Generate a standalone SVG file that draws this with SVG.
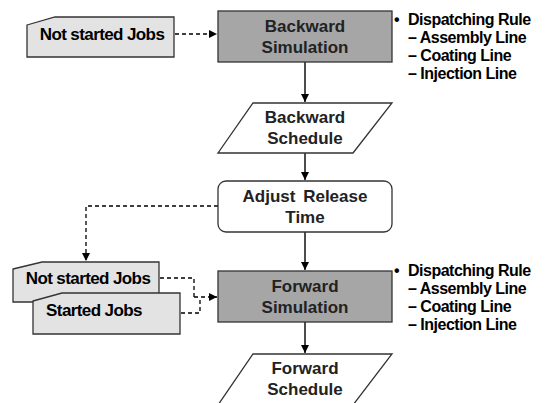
<svg xmlns="http://www.w3.org/2000/svg" width="545" height="403" viewBox="0 0 545 403">
<defs>
<marker id="ah" markerWidth="10" markerHeight="10" refX="9" refY="5" orient="auto" markerUnits="userSpaceOnUse">
<path d="M1,1 L9,5 L1,9 Z" fill="#000"/>
</marker>
<style>
.proc{fill:#a6a6a6;stroke:#333;stroke-width:1.3}
.plain{fill:#fff;stroke:#333;stroke-width:1.3}
.doc{fill:#e3e3e3;stroke:#333;stroke-width:1.3}
.t{font-family:"Liberation Sans",Arial,sans-serif;font-weight:bold;font-size:17px;fill:#222;text-anchor:middle}
.d{font-family:"Liberation Sans",Arial,sans-serif;font-weight:bold;font-size:17px;fill:#000;text-anchor:middle;letter-spacing:-0.6px}
.b{font-family:"Liberation Sans",Arial,sans-serif;font-weight:bold;font-size:16px;fill:#000;letter-spacing:-0.5px}
.solid{fill:none;stroke:#000;stroke-width:1.4}
.dash{fill:none;stroke:#000;stroke-width:1.3;stroke-dasharray:4,3}
</style>
</defs>
<g id="connectors">
<path class="dash" d="M175,34 H217" marker-end="url(#ah)"/>
<path class="solid" d="M305,62 V102" marker-end="url(#ah)"/>
<path class="solid" d="M305,153 V180" marker-end="url(#ah)"/>
<path class="dash" d="M218,206 H86 V261" marker-end="url(#ah)"/>
<path class="solid" d="M305,232 V270" marker-end="url(#ah)"/>
<path class="dash" d="M160,278 H194 V297"/>
<path class="dash" d="M181,313 H200 V297"/>
<path class="dash" d="M194,297 H217" marker-end="url(#ah)"/>
<path class="solid" d="M305,322 V353" marker-end="url(#ah)"/>
</g>
<g id="notstarted1">
<path class="doc" d="M27,25 L55,17 H174 V57 H27 Z"/>
<text class="d" x="102" y="40">Not started Jobs</text>
</g>
<g id="backsim">
<rect class="proc" x="218" y="11" width="174" height="51"/>
<text class="t" x="305" y="32">Backward</text>
<text class="t" x="305" y="53">Simulation</text>
</g>
<g id="rule1">
<text class="b" x="394" y="25">•</text>
<text class="b" x="408" y="25">Dispatching Rule</text>
<text class="b" x="408" y="43">– Assembly Line</text>
<text class="b" x="408" y="61">– Coating Line</text>
<text class="b" x="408" y="79">– Injection Line</text>
</g>
<g id="backsched">
<path class="plain" d="M253,103 H392 L353,153 H218 Z"/>
<text class="t" x="305" y="123">Backward</text>
<text class="t" x="305" y="144">Schedule</text>
</g>
<g id="adjust">
<rect class="plain" x="218" y="181" width="174" height="51" rx="8"/>
<text class="t" x="305" y="202" word-spacing="3">Adjust Release</text>
<text class="t" x="305" y="223">Time</text>
</g>
<g id="notstarted2">
<path class="doc" d="M13,269 L42,262 H159 V302 H13 Z"/>
<text class="d" x="88" y="284">Not started Jobs</text>
</g>
<g id="started">
<path class="doc" d="M33,301 L62,293 H180 V334 H33 Z"/>
<text class="d" x="94" y="316">Started Jobs</text>
</g>
<g id="fwdsim">
<rect class="proc" x="218" y="271" width="174" height="51"/>
<text class="t" x="305" y="292">Forward</text>
<text class="t" x="305" y="313">Simulation</text>
</g>
<g id="rule2">
<text class="b" x="394" y="276">•</text>
<text class="b" x="408" y="276">Dispatching Rule</text>
<text class="b" x="408" y="294">– Assembly Line</text>
<text class="b" x="408" y="312">– Coating Line</text>
<text class="b" x="408" y="330">– Injection Line</text>
</g>
<g id="fwdsched">
<path class="plain" d="M253,354 H392 L353,405 H218 Z"/>
<text class="t" x="305" y="374">Forward</text>
<text class="t" x="305" y="395">Schedule</text>
</g>
</svg>
